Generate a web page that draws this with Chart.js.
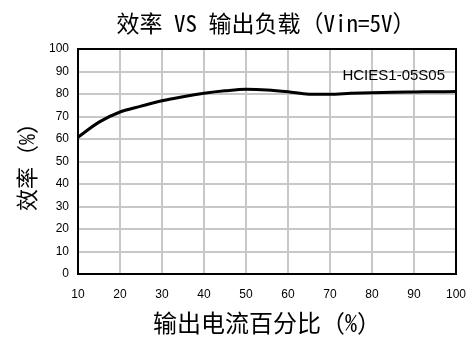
<!DOCTYPE html>
<html>
<head>
<meta charset="utf-8">
<script src="https://cdn.jsdelivr.net/npm/chart.js@4/dist/chart.umd.min.js"></script>
<style>
  html, body { margin: 0; padding: 0; background: #ffffff; overflow: hidden; }
  canvas { display: block; }
</style>
</head>
<body>
<canvas id="chart" width="474" height="338"></canvas>
<script>
// Output current as a percentage of rated load
const loadPercent = [10, 15, 20, 25, 30, 35, 40, 45, 50, 55, 60, 65, 70, 75, 80, 85, 90, 95, 100];
// Measured efficiency (%) at each load point
const efficiency = [60.8, 67.5, 72.0, 74.6, 77.0, 78.8, 80.3, 81.4, 82.1, 81.8, 81.0, 79.9, 79.9, 80.3, 80.6, 80.8, 80.9, 81.0, 81.1];
// Axis tick values
const xTickValues = [10, 20, 30, 40, 50, 60, 70, 80, 90, 100];
const yTickValues = [0, 10, 20, 30, 40, 50, 60, 70, 80, 90, 100];

const seriesName = 'HCIES1-05S05';
const chartTitle = '效率 VS 输出负载（Vin=5V）';
const xTitle = '输出电流百分比（%）';
const yTitle = '效率（%）';

const cjkFont = '"Noto Sans Mono CJK SC", "Noto Sans CJK SC", "DejaVu Sans", sans-serif';
const tickFont = '"Liberation Sans", Arial, sans-serif';

// Frame around the plotting area and the model name in its upper right corner
const framePlugin = {
  id: 'frame',
  afterLayout(chart) {
    const t = chart.titleBlock;
    if (t) { t.left = 76; t.right = 456; }
  },
  beforeDatasetsDraw(chart) {
    const { ctx, chartArea: a } = chart;
    ctx.save();
    ctx.strokeStyle = '#000000';
    ctx.lineWidth = 2;
    ctx.strokeRect(a.left, a.top, a.right - a.left, a.bottom - a.top);
    ctx.restore();
  },
  afterDatasetsDraw(chart) {
    const { ctx, chartArea: a } = chart;
    ctx.save();
    ctx.font = '15px ' + tickFont;
    ctx.fillStyle = '#000000';
    ctx.textAlign = 'right';
    ctx.textBaseline = 'middle';
    ctx.fillText(chart.data.datasets[0].label, a.right - 11, a.top + 27);
    ctx.restore();
  }
};

new Chart(document.getElementById('chart'), {
  type: 'line',
  data: {
    datasets: [{
      label: seriesName,
      data: loadPercent.map((x, i) => ({ x: x, y: efficiency[i] })),
      borderColor: '#000000',
      borderWidth: 3,
      pointRadius: 0,
      fill: false,
      cubicInterpolationMode: 'monotone'
    }]
  },
  options: {
    responsive: false,
    animation: false,
    devicePixelRatio: 1,
    layout: { padding: { left: 0, right: 18, top: 0, bottom: 0 } },
    plugins: {
      legend: { display: false },
      tooltip: { enabled: false },
      title: {
        display: true,
        text: chartTitle,
        fullSize: false,
        color: '#000000',
        font: { family: cjkFont, size: 23, weight: 'normal', lineHeight: 1.2 },
        padding: { top: 9, bottom: 12.4 }
      }
    },
    scales: {
      x: {
        type: 'linear',
        min: 10,
        max: 100,
        afterBuildTicks(scale) { scale.ticks = xTickValues.map(v => ({ value: v })); },
        afterFit(scale) { scale.height = 64; scale.paddingLeft = 0; scale.paddingRight = 0; },
        grid: { color: '#c8c8c8', lineWidth: 2, drawTicks: false },
        border: { display: false },
        ticks: { color: '#000000', padding: 13, maxRotation: 0, font: { family: tickFont, size: 12 } },
        title: {
          display: true,
          text: xTitle,
          color: '#000000',
          font: { family: cjkFont, size: 24, weight: 'normal', lineHeight: 1.2 },
          padding: { top: 0, bottom: 1 }
        }
      },
      y: {
        type: 'linear',
        min: 0,
        max: 100,
        afterBuildTicks(scale) { scale.ticks = yTickValues.map(v => ({ value: v })); },
        afterFit(scale) { scale.width = 78; scale.paddingTop = 0; scale.paddingBottom = 0; },
        grid: { color: '#c8c8c8', lineWidth: 2, drawTicks: false },
        border: { display: false },
        ticks: { color: '#000000', padding: 9, font: { family: tickFont, size: 12 } },
        title: {
          display: true,
          text: yTitle,
          color: '#000000',
          font: { family: cjkFont, size: 22, weight: 'normal', lineHeight: 1.2 },
          padding: { top: 13, bottom: 0 }
        }
      }
    }
  },
  plugins: [framePlugin]
});
</script>
</body>
</html>
